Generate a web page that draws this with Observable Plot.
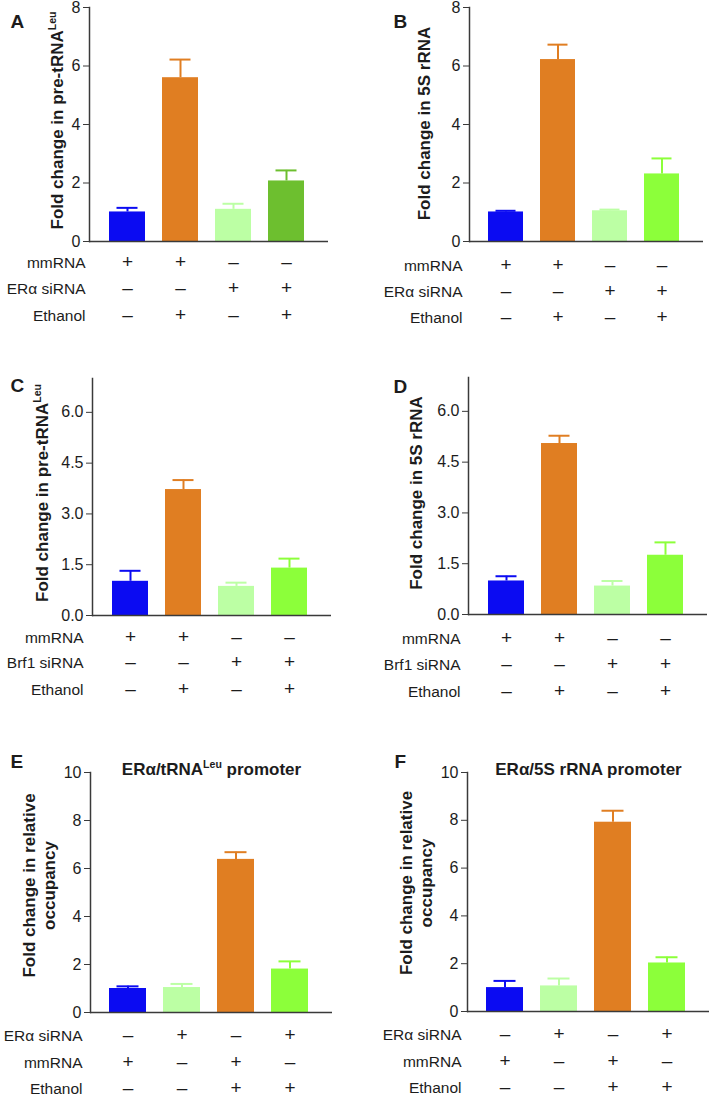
<!DOCTYPE html>
<html><head><meta charset="utf-8">
<script src="https://cdn.jsdelivr.net/npm/d3@7"></script>
<script src="https://cdn.jsdelivr.net/npm/@observablehq/plot@0.6"></script>
<style>
html,body{margin:0;padding:0;background:#fff;}
#fig{position:relative;width:709px;height:1099px;overflow:hidden;background:#fff;}
#fig .panel{position:absolute;}
</style></head><body><div id="fig"></div>
<script>
// ---- data ----
const groups = ["g1", "g2", "g3", "g4"];

const valuesA = [1.01, 5.60, 1.10, 2.07];
const errorsA = [1.15, 6.22, 1.29, 2.43];
const valuesB = [1.01, 6.22, 1.05, 2.31];
const errorsB = [1.05, 6.73, 1.09, 2.84];
const valuesC = [1.01, 3.72, 0.86, 1.40];
const errorsC = [1.32, 4.00, 0.97, 1.68];
const valuesD = [0.99, 5.05, 0.84, 1.75];
const errorsD = [1.13, 5.28, 0.99, 2.13];
const valuesE = [1.00, 1.04, 6.38, 1.81];
const errorsE = [1.09, 1.19, 6.68, 2.13];
const valuesF = [1.00, 1.07, 7.92, 2.03];
const errorsF = [1.28, 1.38, 8.40, 2.27];

const ticksAB = [0, 2, 4, 6, 8];
const ticksCD = [0, 1.5, 3, 4.5, 6];
const ticksEF = [0, 2, 4, 6, 8, 10];

const rowLabelsAB = ["mmRNA", "ERα siRNA", "Ethanol"];
const rowLabelsCD = ["mmRNA", "Brf1 siRNA", "Ethanol"];
const rowLabelsEF = ["ERα siRNA", "mmRNA", "Ethanol"];
const rowSignsABCD = [["+", "+", "–", "–"], ["–", "–", "+", "+"], ["–", "+", "–", "+"]];
const rowSignsEF = [["–", "+", "–", "+"], ["+", "–", "+", "–"], ["–", "–", "+", "+"]];

const yLabelA = "Fold change in pre-tRNA^Leu";
const yLabelB = "Fold change in 5S rRNA";
const yLabelEF = "Fold change in relative\noccupancy";
const titleE = "ERα/tRNA^Leu promoter";
const titleF = "ERα/5S rRNA promoter";

const BLUE = "#0b0bf2", ORANGE = "#e07e22", LIGHT = "#bcffa4", GREEN_A = "#6dbf2f", GREEN = "#8cff3a";
const colorsA = [BLUE, ORANGE, LIGHT, GREEN_A];
const colorsBCD = [BLUE, ORANGE, LIGHT, GREEN];
const colorsEF = [BLUE, LIGHT, ORANGE, GREEN];

// ---- layout ----
const panels = [
  {letter: "A", left: 0, top: 0, height: 330, mt: 7, mb: 89, ml: 89, mr: 26, ymax: 8, ticks: ticksAB, fmt: d3.format("d"),
   values: valuesA, errors: errorsA, colors: colorsA, ylabel: yLabelA, ylDx: -33, ylDy: -4,
   rows: rowLabelsAB, signs: rowSignsABCD, rowDy: [26, 52.5, 79], rowDx: -4, letDx: -79, letDy: 7},
  {letter: "B", left: 355, top: 0, height: 330, mt: 7, mb: 89, ml: 114, mr: 6, ymax: 8, ticks: ticksAB, fmt: d3.format("d"),
   values: valuesB, errors: errorsB, colors: colorsBCD, ylabel: yLabelB, ylDx: -46, ylDy: -1,
   rows: rowLabelsAB, signs: rowSignsABCD, rowDy: [29, 55, 81], rowDx: -7, letDx: -76, letDy: 7},
  {letter: "C", left: 0, top: 330, height: 380, mt: 48, mb: 95, ml: 92, mr: 23, ymax: 7, ticks: ticksCD, fmt: d3.format(".1f"),
   values: valuesC, errors: errorsC, colors: colorsBCD, ylabel: yLabelA, ylDx: -51, ylDy: -4,
   rows: rowLabelsCD, signs: rowSignsABCD, rowDy: [27, 52.5, 79], rowDx: -9, letDx: -82, letDy: 0},
  {letter: "D", left: 355, top: 330, height: 380, mt: 47, mb: 96, ml: 113, mr: 2, ymax: 7, ticks: ticksCD, fmt: d3.format(".1f"),
   values: valuesD, errors: errorsD, colors: colorsBCD, ylabel: yLabelB, ylDx: -53, ylDy: -3,
   rows: rowLabelsCD, signs: rowSignsABCD, rowDy: [29, 55, 82], rowDx: -8, letDx: -75, letDy: 2},
  {letter: "E", left: 0, top: 710, height: 389, mt: 62, mb: 87, ml: 90, mr: 22, ymax: 10, ticks: ticksEF, fmt: d3.format("d"),
   values: valuesE, errors: errorsE, colors: colorsEF, ylabel: yLabelEF, ylDx: -52, ylDy: -7, title: titleE,
   rows: rowLabelsEF, signs: rowSignsEF, rowDy: [28.5, 55, 81.5], rowDx: -8, letDx: -80, letDy: -18},
  {letter: "F", left: 355, top: 710, height: 389, mt: 62, mb: 88, ml: 112, mr: 0, ymax: 10, ticks: ticksEF, fmt: d3.format("d"),
   values: valuesF, errors: errorsF, colors: colorsEF, ylabel: yLabelEF, ylDx: -52, ylDy: -9, title: titleF,
   rows: rowLabelsEF, signs: rowSignsEF, rowDy: [28.5, 55, 81.5], rowDx: -6, letDx: -73, letDy: -18}
];

const FONT = "'Liberation Sans', Arial, Helvetica, sans-serif";
const INK = "#1c1c1c";
const AX = "#3a3a3a";
const SVGNS = "http://www.w3.org/2000/svg";

function supify(svg) {
  svg.querySelectorAll("text").forEach(t => {
    if (t.children.length) {
      t.querySelectorAll("tspan").forEach(ts => supNode(ts));
    } else supNode(t);
  });
}
function supNode(node) {
  const s = node.textContent;
  if (!s.includes("^")) return;
  const parts = s.split(/\^(\w+)/);
  node.textContent = "";
  let shifted = false;
  parts.forEach((p, i) => {
    if (!p) return;
    const ts = document.createElementNS(SVGNS, "tspan");
    ts.textContent = p;
    if (i % 2 === 1) {
      ts.setAttribute("font-size", "0.62em");
      ts.setAttribute("dy", "-7");
      shifted = true;
    } else if (shifted) {
      ts.setAttribute("dy", "7");
      shifted = false;
    }
    node.appendChild(ts);
  });
}

const fig = document.getElementById("fig");
for (const p of panels) {
  const data = groups.map((g, i) => ({g, v: p.values[i], e: p.errors[i], c: p.colors[i]}));
  const marks = [
    Plot.barY(data, {x: "g", y: "v", fill: "c"}),
    Plot.ruleX(data, {x: "g", y1: "v", y2: "e", stroke: "c", strokeWidth: 2}),
    Plot.tickY(data, {x: "g", y: "e", stroke: "c", strokeWidth: 2, insetLeft: 7.5, insetRight: 7.5}),
    Plot.ruleY([0], {stroke: AX, strokeWidth: 1.5}),
    Plot.frame({anchor: "left", stroke: AX, strokeWidth: 1.5}),
    Plot.axisY({ticks: p.ticks, tickFormat: p.fmt, tickSize: 6, tickPadding: 3, label: null, stroke: AX, fontSize: 16}),
    Plot.text([p.ylabel], {text: d => d, frameAnchor: "left", textAnchor: "middle", lineAnchor: "middle", rotate: -90,
      dx: p.ylDx, dy: p.ylDy, fontSize: 17, fontWeight: "bold", lineHeight: 1.2, fill: INK}),
    Plot.text([p.letter], {text: d => d, frameAnchor: "top-left", textAnchor: "start", dx: p.letDx, dy: p.letDy,
      fontSize: 19, fontWeight: "bold", fill: INK})
  ];
  if (p.title) {
    marks.push(Plot.text([p.title], {text: d => d, frameAnchor: "top", dy: -10, fontSize: 17, fontWeight: "bold", fill: INK}));
  }
  p.rows.forEach((label, r) => {
    marks.push(Plot.text([label], {text: d => d, frameAnchor: "bottom-left", textAnchor: "end",
      dx: p.rowDx, dy: p.rowDy[r], fontSize: 15.5, fill: INK}));
    marks.push(Plot.text(data, {x: "g", text: (d, i) => p.signs[r][i], frameAnchor: "bottom",
      dy: p.rowDy[r], fontSize: 19, fill: INK}));
  });
  const svg = Plot.plot({
    width: 354, height: p.height,
    marginTop: p.mt, marginBottom: p.mb, marginLeft: p.ml, marginRight: p.mr,
    x: {domain: groups, paddingInner: 0.32, paddingOuter: 0.38, align: 0.45, axis: null},
    y: {domain: [0, p.ymax], axis: null},
    color: {type: "identity"},
    style: {fontFamily: FONT, fontSize: "15px", color: INK, background: "transparent", overflow: "visible"},
    marks
  });
  supify(svg);
  const div = document.createElement("div");
  div.className = "panel";
  div.style.left = p.left + "px";
  div.style.top = p.top + "px";
  div.appendChild(svg);
  fig.appendChild(div);
}
</script></body></html>
